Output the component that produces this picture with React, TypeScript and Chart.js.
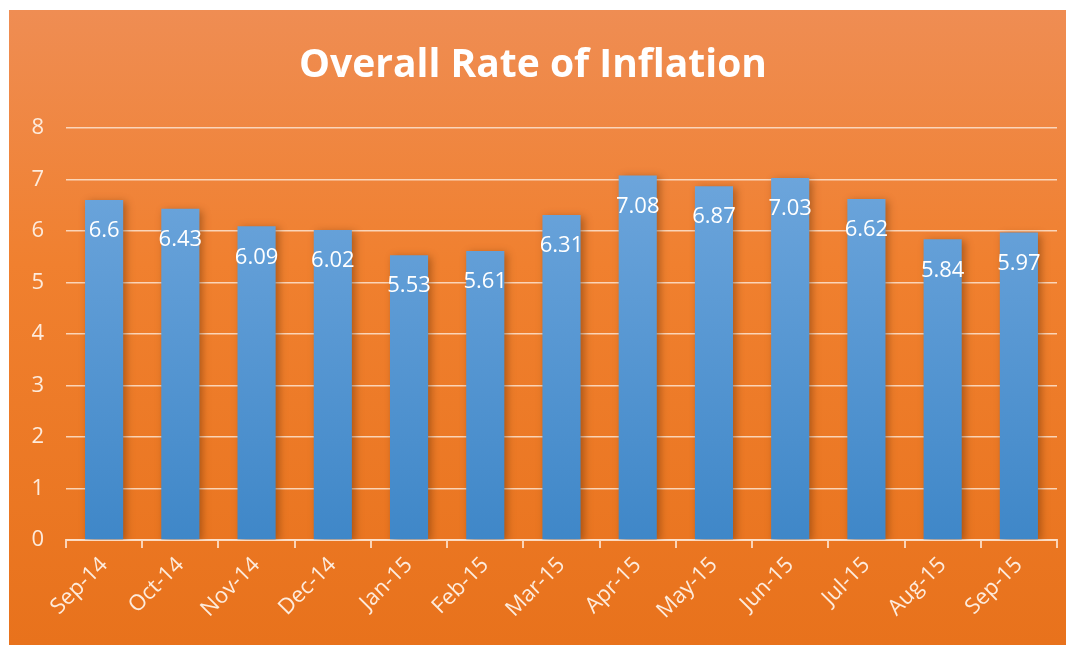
import React, { useEffect, useRef } from "react";
import { Chart, registerables } from "chart.js";

Chart.register(...registerables);

const categories = ["Sep-14", "Oct-14", "Nov-14", "Dec-14", "Jan-15", "Feb-15", "Mar-15", "Apr-15", "May-15", "Jun-15", "Jul-15", "Aug-15", "Sep-15"];
const inflation = [6.6, 6.43, 6.09, 6.02, 5.53, 5.61, 6.31, 7.08, 6.87, 7.03, 6.62, 5.84, 5.97];
const labelsText = ["6.6", "6.43", "6.09", "6.02", "5.53", "5.61", "6.31", "7.08", "6.87", "7.03", "6.62", "5.84", "5.97"];
const title = "Overall Rate of Inflation";

const FONT = "'Open Sans', Lato, sans-serif";
const TEXT = "#fdebdc";
const GRID = "rgba(253,228,208,0.85)";

const shadowPlugin = {
  id: "barShadow",
  beforeDatasetsDraw(chart: any) {
    const ctx = chart.ctx;
    ctx.save();
    ctx.shadowColor = "rgba(90,40,0,0.45)";
    ctx.shadowBlur = 8;
    ctx.shadowOffsetX = 3;
    ctx.shadowOffsetY = 2;
  },
  afterDatasetsDraw(chart: any) {
    chart.ctx.restore();
  },
};

const labelPlugin = {
  id: "valueLabels",
  afterDraw(chart: any) {
    const ctx = chart.ctx;
    const meta = chart.getDatasetMeta(0);
    ctx.save();
    ctx.fillStyle = "#ffffff";
    ctx.font = `22px ${FONT}`;
    ctx.textAlign = "center";
    ctx.textBaseline = "middle";
    meta.data.forEach((bar: any, i: number) => {
      ctx.fillText(labelsText[i], bar.x, bar.y + 31);
    });
    ctx.restore();
  },
};

export default function App() {
  const ref = useRef<HTMLCanvasElement>(null);
  useEffect(() => {
    if (!ref.current) return;
    const chart = new Chart(ref.current, {
      type: "bar",
      data: {
        labels: categories,
        datasets: [
          {
            data: inflation,
            backgroundColor: (c: any) => {
              const area = c.chart.chartArea;
              if (!area) return "#5b9bd5";
              const g = c.chart.ctx.createLinearGradient(0, area.top, 0, area.bottom);
              g.addColorStop(0, "#72a9de");
              g.addColorStop(1, "#3f87c8");
              return g;
            },
            borderWidth: 0,
            categoryPercentage: 1,
            barPercentage: 0.5,
          },
        ],
      },
      plugins: [shadowPlugin, labelPlugin],
      options: {
        responsive: false,
        animation: false,
        layout: { padding: { left: 0, right: 9, top: 0, bottom: 0 } },
        plugins: {
          legend: { display: false },
          tooltip: { enabled: false },
          title: {
            display: true,
            text: title,
            color: "#ffffff",
            font: { family: FONT, size: 39, weight: "bold" },
            padding: { top: 32, bottom: 39.2 },
          },
        },
        scales: {
          x: {
            afterFit: (s: any) => {
              s.height = 105;
            },
            grid: {
              display: true,
              drawOnChartArea: false,
              offset: true,
              color: GRID,
              tickLength: 8,
              lineWidth: 2,
            },
            border: { display: true, color: GRID, width: 2 },
            ticks: {
              color: TEXT,
              font: { family: FONT, size: 22 },
              maxRotation: 45,
              minRotation: 45,
              padding: 4,
            },
          },
          y: {
            min: 0,
            max: 8,
            afterFit: (s: any) => {
              s.width = 57;
            },
            ticks: {
              stepSize: 1,
              color: TEXT,
              font: { family: FONT, size: 22 },
              padding: 22,
            },
            grid: { color: GRID, lineWidth: 1.5, drawTicks: false },
            border: { display: false },
          },
        },
      },
    });
    return () => chart.destroy();
  }, []);
  return (
    <div
      style={{
        position: "absolute",
        left: 9,
        top: 10,
        width: 1057,
        height: 635,
        background: "linear-gradient(180deg, #ef8d53 0%, #f0802f 40%, #e8721c 100%)",
      }}
    >
      <canvas ref={ref} width={1057} height={635} style={{ display: "block" }} />
    </div>
  );
}
